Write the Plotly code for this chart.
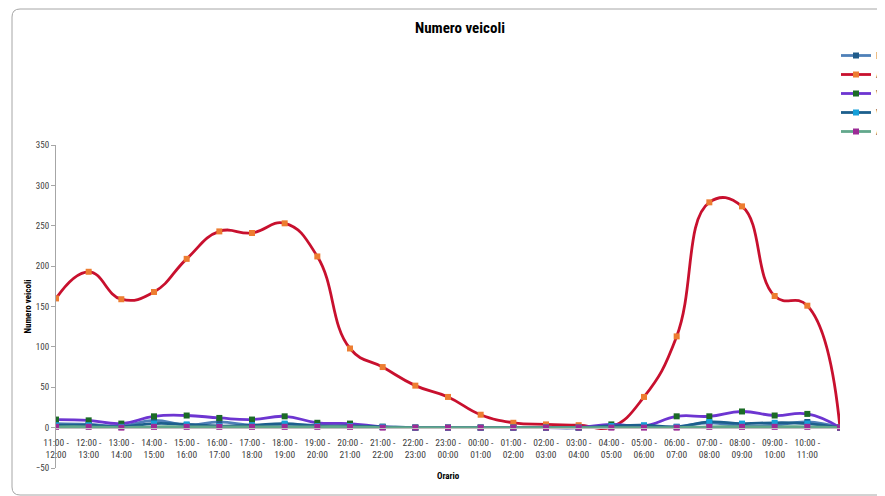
import plotly.graph_objects as go

# fasce orarie (l'ultima categoria è vuota, come nel grafico originale)
orari = [
    "11:00 -<br>12:00", "12:00 -<br>13:00", "13:00 -<br>14:00", "14:00 -<br>15:00",
    "15:00 -<br>16:00", "16:00 -<br>17:00", "17:00 -<br>18:00", "18:00 -<br>19:00",
    "19:00 -<br>20:00", "20:00 -<br>21:00", "21:00 -<br>22:00", "22:00 -<br>23:00",
    "23:00 -<br>00:00", "00:00 -<br>01:00", "01:00 -<br>02:00", "02:00 -<br>03:00",
    "03:00 -<br>04:00", "04:00 -<br>05:00", "05:00 -<br>06:00", "06:00 -<br>07:00",
    "07:00 -<br>08:00", "08:00 -<br>09:00", "09:00 -<br>10:00", "10:00 -<br>11:00",
    " ",
]

bici = [5, 4, 2, 9, 3, 7, 3, 4, 3, 2, 1, 0, 0, 0, 0, 0, 0, 1, 1, 1, 6, 2, 3, 7, 0]
auto = [160, 193, 159, 168, 209, 243, 241, 253, 212, 98, 75, 52, 38, 16, 6, 4, 3, 1,
        38, 113, 279, 274, 163, 151, 0]
veicoli_commerciali = [10, 9, 5, 14, 15, 12, 10, 14, 6, 5, 1, 0, 0, 0, 0, 0, 0, 4, 2,
                       14, 14, 20, 15, 17, 0]
veicoli_pesanti = [3, 3, 1, 5, 4, 2, 3, 5, 2, 2, 1, 0, 0, 0, 0, 0, 0, 2, 3, 1, 7, 5, 6,
                   5, 0]
autobus = [1, 1, 0, 1, 1, 1, 1, 1, 1, 1, 0, 0, 0, 0, 0, 0, 0, 0, 0, 0, 1, 1, 1, 1, 0]

serie = [
    ("Bici", bici, "#4f80b8", "#1f5b8a"),
    ("Auto", auto, "#c8102e", "#ed7d31"),
    ("Veicoli commerciali", veicoli_commerciali, "#6d35d1", "#1b6b26"),
    ("Veicoli pesanti", veicoli_pesanti, "#1c5f8d", "#159fd9"),
    ("Autobus", autobus, "#62a88c", "#9c2b96"),
]

FONT = "Liberation Sans Narrow, Roboto Condensed, Arial Narrow, Roboto, sans-serif"

fig = go.Figure()
for nome, valori, col_linea, col_marker in serie:
    fig.add_trace(go.Scatter(
        x=orari, y=valori, name=nome, mode="lines+markers",
        line=dict(color=col_linea, width=2.8, shape="spline", smoothing=1.3),
        marker=dict(symbol="square", size=6, color=col_marker),
    ))

# la pagina ha 8px di margine: le coordinate sotto sono quelle dello schermo
OFF = 8
W, H = 885, 496
L = 56 - OFF
T = 145 - OFF
R = W - (840 - OFF)
B = H - (468 - OFF)
pw, ph = W - L - R, H - T - B


def px(x):
    return (x - OFF - L) / pw


def py(y):
    return (H - B - (y - OFF)) / ph


# bordo dell'area grafico con angoli arrotondati
r = 8
bordo = (
    f"M {px(900)},{py(9)} L {px(12 + r)},{py(9)} "
    f"Q {px(12)},{py(9)} {px(12)},{py(9 + r)} "
    f"L {px(12)},{py(495 - r)} Q {px(12)},{py(495)} {px(12 + r)},{py(495)} "
    f"L {px(900)},{py(495)}"
)
fig.add_shape(type="path", path=bordo, xref="paper", yref="paper",
              line=dict(color="#a6a6a6", width=1), layer="below")

fig.update_layout(
    width=W, height=H,
    margin=dict(l=L, r=R, t=T, b=B, autoexpand=False),
    paper_bgcolor="white", plot_bgcolor="white",
    font=dict(family=FONT, size=9, color="#404040"),
    title=dict(text="<b>Numero veicoli</b>", x=px(460), xref="paper", xanchor="center",
               y=1 - (28 - OFF) / H, yanchor="middle",
               font=dict(family=FONT, size=15, color="#000000")),
    legend=dict(x=px(836), y=py(41), xanchor="left", yanchor="top",
                font=dict(size=9, color="#404040"), itemwidth=30,
                tracegroupgap=0, bgcolor="rgba(0,0,0,0)"),
    showlegend=True,
)

fig.update_xaxes(
    type="category", range=[0, 24], anchor="free", position=50 / 400,
    showline=True, linecolor="#bfbfbf", linewidth=1, showgrid=False,
    ticks="", tickfont=dict(size=9.5, color="#404040"), tickangle=0,
    ticklabelstandoff=6, title=None,
)
fig.update_yaxes(
    range=[-50, 350], dtick=50, showgrid=False, zeroline=False,
    showline=True, linecolor="#a6a6a6", linewidth=1,
    ticks="outside", ticklen=4, tickcolor="#a6a6a6",
    tickfont=dict(size=9, color="#404040"),
    title=dict(text="<b>Numero veicoli</b>", font=dict(size=9, color="#000000"),
               standoff=2),
)

fig.add_annotation(text="<b>Orario</b>", x=px(448), y=py(476), xref="paper", yref="paper",
                   yanchor="middle", showarrow=False,
                   font=dict(family=FONT, size=9, color="#000000"))

fig.write_html("out.html")
